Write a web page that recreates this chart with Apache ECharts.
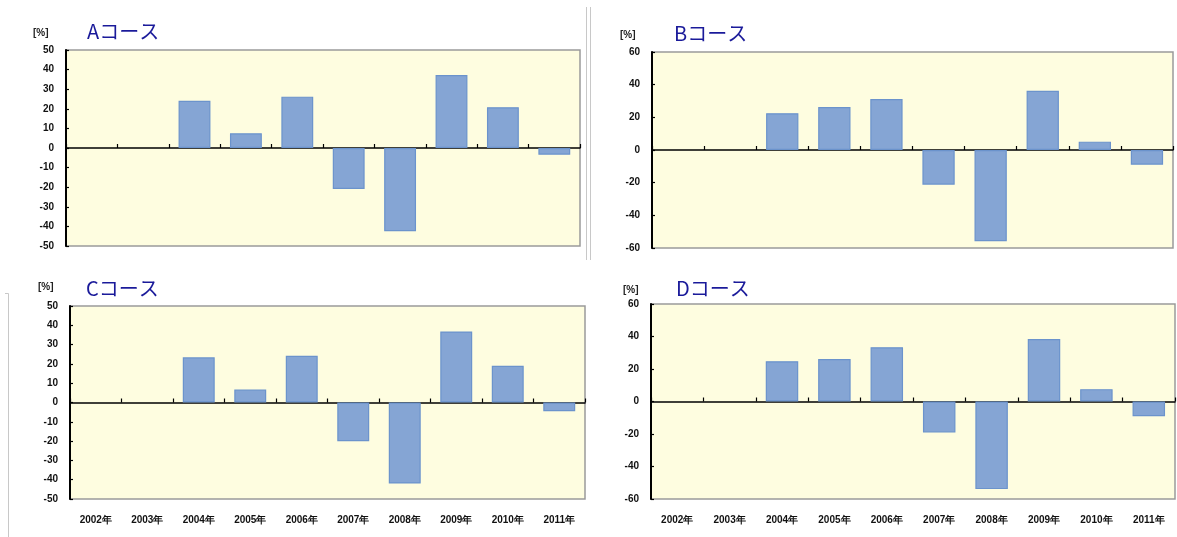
<!DOCTYPE html>
<html>
<head>
<meta charset="utf-8">
<script src="https://cdn.jsdelivr.net/npm/echarts@6/dist/echarts.min.js"></script>
<style>
html,body{margin:0;padding:0;background:#fff;}
#main{width:1177px;height:537px;}
</style>
</head>
<body>
<div id="main"></div>
<script>
// ---- data ----
var years = ['2002年','2003年','2004年','2005年','2006年','2007年','2008年','2009年','2010年','2011年'];
var courseNames = ['Aコース','Bコース','Cコース','Dコース'];
var courseA = [null, null, 24.1, 7.5, 26.2, -20.9, -42.5, 37.2, 20.8, -3.4];
var courseB = [null, null, 22.5, 26.3, 31.2, -21.2, -55.9, 36.3, 5.1, -9.0];
var courseC = [null, null, 23.4, 6.7, 24.2, -20.1, -42.0, 36.8, 19.0, -4.5];
var courseD = [null, null, 24.8, 26.2, 33.4, -19.0, -53.9, 38.5, 7.6, -9.0];
var yRangeAC = [-50, 50, 10];
var yRangeBD = [-60, 60, 20];
var unitLabel = '[%]';

// ---- layout ----
var panels = [
  {data: courseA, range: yRangeAC, grid: {left: 66, top: 50, width: 514, height: 196}, title: {x: 87, y: 21}, unit: {x: 33, y: 28}, labels: false},
  {data: courseB, range: yRangeBD, grid: {left: 652, top: 52, width: 521, height: 196}, title: {x: 674, y: 23}, unit: {x: 620, y: 30}, labels: false},
  {data: courseC, range: yRangeAC, grid: {left: 70, top: 306, width: 515, height: 193}, title: {x: 86, y: 278}, unit: {x: 38, y: 282}, labels: true},
  {data: courseD, range: yRangeBD, grid: {left: 651, top: 304, width: 524, height: 195}, title: {x: 676, y: 278}, unit: {x: 623, y: 285}, labels: true}
];

var labelFont = {fontFamily: 'Liberation Sans, Arial, sans-serif', fontWeight: 'bold', fontSize: 10, color: '#111'};

var option = {
  backgroundColor: '#ffffff',
  animation: false,
  title: [], grid: [], xAxis: [], yAxis: [], series: [],
  graphic: [
    {type: 'line', shape: {x1: 586.5, y1: 7, x2: 586.5, y2: 260}, style: {stroke: '#c8c8c8', lineWidth: 1}},
    {type: 'line', shape: {x1: 590.5, y1: 7, x2: 590.5, y2: 260}, style: {stroke: '#c8c8c8', lineWidth: 1}},
    {type: 'polyline', shape: {points: [[5, 293.5], [8.5, 293.5], [8.5, 537]]}, style: {stroke: '#c8c8c8', lineWidth: 1, fill: null}}
  ]
};

panels.forEach(function (p, i) {
  option.title.push({
    text: courseNames[i], left: p.title.x, top: p.title.y, padding: 0,
    textStyle: {fontFamily: 'Noto Sans CJK JP, sans-serif', fontSize: 20, fontWeight: 'normal', color: '#1a1a9a'}
  });
  option.title.push({
    text: unitLabel, left: p.unit.x, top: p.unit.y, padding: 0,
    textStyle: {fontFamily: 'Liberation Sans, Arial, sans-serif', fontSize: 10, fontWeight: 'bold', color: '#222'}
  });
  option.grid.push({
    left: p.grid.left, top: p.grid.top, width: p.grid.width, height: p.grid.height,
    show: true, backgroundColor: '#fefde0', borderColor: '#9a9a9a', borderWidth: 1.5,
    containLabel: false
  });
  // zero-line category axis
  option.xAxis.push({
    type: 'category', gridIndex: i, data: years, boundaryGap: true,
    axisLine: {show: true, onZero: true, lineStyle: {color: '#000', width: 1.5}},
    axisTick: {show: true, inside: true, length: 4, alignWithLabel: false, lineStyle: {color: '#000', width: 1.2}},
    axisLabel: {show: false}, splitLine: {show: false}
  });
  // bottom label axis
  option.xAxis.push({
    type: 'category', gridIndex: i, data: years, boundaryGap: true, position: 'bottom',
    axisLine: {show: false, onZero: false}, axisTick: {show: false},
    axisLabel: Object.assign({show: p.labels, margin: 16, interval: 0}, labelFont),
    splitLine: {show: false}
  });
  option.yAxis.push({
    type: 'value', gridIndex: i, min: p.range[0], max: p.range[1], interval: p.range[2],
    axisLine: {show: true, lineStyle: {color: '#000', width: 2}},
    axisTick: {show: true, inside: true, length: 3, lineStyle: {color: '#000', width: 1.2}},
    axisLabel: Object.assign({margin: 12}, labelFont),
    splitLine: {show: false}
  });
  option.series.push({
    type: 'bar', xAxisIndex: i * 2, yAxisIndex: i, data: p.data, barWidth: '62%',
    itemStyle: {color: '#85a5d4', borderColor: '#6b93cc', borderWidth: 1.2}
  });
});

var chart = echarts.init(document.getElementById('main'), null, {renderer: 'canvas'});
chart.setOption(option);
</script>
</body>
</html>
